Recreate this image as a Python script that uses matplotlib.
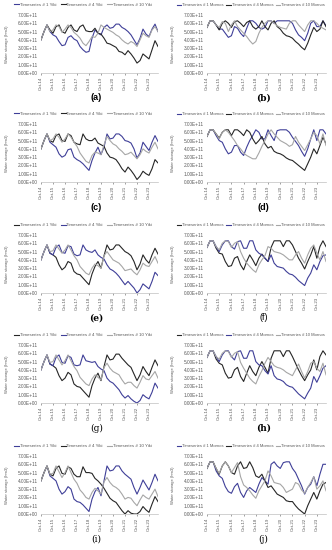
import matplotlib
matplotlib.use("Agg")
import matplotlib.pyplot as plt
import matplotlib.dates as mdates
import matplotlib.ticker as mticker
import pandas as pd

plt.rcParams['font.family'] = ['Liberation Sans', 'DejaVu Sans']

dates = pd.date_range('2014-10-01', periods=40, freq='3MS')
tick_dates = pd.date_range('2014-10-01', periods=10, freq='12MS')
yticks = [0, 1e11, 2e11, 3e11, 4e11, 5e11, 6e11, 7e11]

# values in units of 1E+11
a1 = [4.0,5.0,5.8,5.0,4.6,4.4,3.8,3.3,3.4,4.3,4.5,4.1,3.9,3.2,2.8,2.5,2.6,4.2,5.2,4.8,4.6,5.5,5.8,5.4,5.5,5.9,5.9,5.5,5.3,5.0,4.6,4.0,3.4,4.2,5.3,4.7,4.4,5.3,5.9,5.0]
a4 = [4.0,5.0,5.8,5.2,4.8,5.6,5.8,5.0,4.8,5.5,5.8,5.2,5.0,5.6,5.8,5.1,5.0,5.0,5.4,4.8,4.7,4.2,3.6,3.5,3.3,3.1,2.6,2.5,2.2,2.7,2.3,1.8,1.2,1.5,2.3,2.0,1.7,2.8,3.9,3.2]
a10 = [4.0,5.0,5.8,5.0,5.2,5.8,5.6,4.9,5.3,5.8,5.5,4.9,4.6,4.2,3.6,3.3,3.8,4.4,4.3,4.8,5.8,5.5,5.3,5.1,4.9,4.6,4.4,4.0,3.7,3.5,3.8,3.6,3.2,4.0,4.8,4.5,4.3,5.2,5.6,5.0]

b1 = [5.5,6.3,6.3,5.8,5.3,5.3,4.8,4.3,4.5,5.6,5.4,4.8,4.4,5.4,6.3,6.3,6.0,5.5,5.3,5.5,6.3,6.3,6.0,6.3,6.3,6.3,6.3,6.3,6.0,5.2,4.6,4.3,3.9,4.8,6.0,6.3,5.6,5.6,6.3,5.7]
b4 = [5.5,6.3,6.3,5.8,5.2,6.0,6.3,6.0,5.5,6.2,6.3,6.0,5.6,6.1,6.3,5.6,5.3,5.6,6.3,5.6,5.2,6.0,6.3,5.6,5.3,4.8,4.5,4.4,4.2,3.8,3.5,3.1,2.8,3.6,4.6,5.5,5.0,5.3,6.3,5.6]
b10 = [5.5,6.3,6.3,5.8,5.5,6.2,6.0,5.0,5.8,6.3,5.6,5.2,4.8,4.4,3.9,3.5,3.8,4.8,5.5,6.0,6.3,6.3,6.0,5.7,5.5,5.4,5.3,6.0,6.3,6.3,5.8,5.4,5.0,5.8,6.3,6.3,6.0,5.6,5.4,5.2]

c1 = [4.0,5.0,5.8,4.8,4.5,4.2,3.4,3.0,3.2,3.9,4.0,3.0,2.7,2.5,2.2,1.8,1.4,2.6,3.5,4.2,3.3,4.2,5.8,5.2,5.3,5.8,5.8,5.5,5.0,4.9,4.7,4.0,2.9,3.5,4.8,4.3,3.8,4.8,5.6,4.9]
c4 = [4.0,5.0,5.8,5.0,4.8,5.6,5.8,5.0,4.9,5.8,5.6,4.8,4.6,4.5,5.8,5.2,5.0,5.0,5.3,4.7,4.5,4.3,3.5,3.0,2.9,2.7,2.2,1.6,1.2,1.8,1.4,0.9,0.3,0.7,1.3,1.0,0.8,1.6,2.7,2.3]
c10 = [4.0,5.0,5.8,5.0,5.2,5.8,5.4,4.8,5.2,5.8,5.4,4.8,4.3,3.5,3.0,2.5,2.3,3.2,3.6,3.5,3.3,4.5,5.5,5.0,4.6,4.4,4.0,3.7,3.3,3.4,3.6,3.2,2.8,3.3,4.0,3.7,3.5,4.2,4.8,4.0]

d1 = [5.5,6.3,6.3,5.6,5.0,4.8,4.0,3.4,3.6,4.4,4.4,3.6,3.2,4.2,5.0,5.6,6.3,6.0,5.2,5.2,6.3,5.6,5.0,6.2,6.3,6.3,6.3,6.0,5.4,4.9,4.4,3.7,3.1,4.0,5.2,6.3,5.0,6.3,6.3,5.8]
d4 = [5.5,6.3,6.3,5.8,5.3,6.0,6.3,6.3,5.6,6.3,6.3,6.0,5.6,6.3,6.0,5.2,4.6,5.0,5.5,4.6,4.1,4.3,3.7,3.5,3.4,3.2,2.9,2.7,2.6,2.3,2.0,1.7,1.4,2.2,3.0,4.0,3.4,4.4,5.4,4.6]
d10 = [5.5,6.3,6.3,5.8,5.2,6.0,6.3,6.0,5.5,5.0,4.4,4.0,3.5,3.2,3.0,2.8,2.8,3.5,4.3,5.0,5.8,6.3,5.8,5.4,5.0,4.8,4.6,4.3,4.5,5.5,4.8,4.3,3.8,4.5,5.2,6.0,5.6,4.6,5.8,4.4]

e1 = [4.0,5.0,5.8,4.8,4.6,4.3,3.4,2.8,3.1,3.8,3.6,2.6,2.3,2.2,1.8,1.4,1.0,2.3,3.2,3.8,3.0,4.5,5.8,5.2,5.3,5.8,5.8,5.4,5.0,4.8,4.5,3.8,2.8,3.5,4.6,4.0,3.6,4.6,5.4,4.7]
e4 = [4.0,5.0,5.8,4.8,4.6,5.5,5.8,4.9,4.8,5.7,5.6,4.7,4.5,4.6,5.8,5.2,5.0,4.9,5.2,4.6,4.3,4.1,3.4,2.9,2.7,2.4,2.0,1.5,1.0,1.4,1.0,0.6,0.0,0.4,1.1,0.8,0.5,1.4,2.5,2.1]
e10 = [4.0,5.0,5.8,5.0,5.1,5.8,5.3,4.8,5.2,5.8,5.2,4.5,4.0,3.2,2.8,2.4,2.2,3.0,3.5,3.3,3.0,4.5,5.0,4.5,4.0,3.8,3.6,3.2,2.7,2.8,2.9,2.5,2.2,2.8,3.6,3.3,3.2,3.8,4.4,3.6]

f1 = [5.5,6.3,6.3,5.4,4.8,4.7,3.8,3.2,3.3,4.2,4.4,3.4,2.8,3.8,4.6,4.0,3.3,4.2,4.7,4.2,3.8,5.5,6.3,6.3,6.3,5.6,6.3,6.3,5.8,5.0,4.2,3.6,2.9,3.8,4.6,5.6,4.2,5.6,6.3,5.6]
f4 = [5.5,6.3,6.3,5.6,5.0,5.8,6.3,6.3,5.6,5.3,6.2,6.3,5.4,5.4,6.3,6.3,5.2,4.8,4.6,4.2,3.8,4.6,3.6,3.2,3.1,3.0,2.6,2.3,2.2,1.9,1.5,1.2,0.9,1.8,2.4,3.4,2.8,3.8,4.5,4.6]
f10 = [5.5,6.3,6.3,5.6,5.2,6.0,6.3,6.2,5.5,6.0,6.2,5.0,4.2,3.6,3.2,2.8,2.5,3.4,4.0,4.5,5.6,5.4,5.0,4.9,4.8,4.6,4.3,4.0,4.0,4.6,5.0,4.2,3.6,4.6,5.4,5.8,4.8,4.0,5.0,3.8]

g1 = [4.0,5.0,5.8,4.7,4.5,4.2,3.3,2.7,3.0,3.7,3.4,2.3,2.0,1.9,1.5,1.1,0.7,2.1,3.0,3.6,2.7,4.4,5.8,5.2,5.3,5.9,5.9,5.4,5.0,4.6,4.3,3.5,2.7,3.4,4.4,3.8,3.3,4.3,5.2,4.5]
g4 = [4.0,5.0,5.8,4.7,4.5,5.5,5.8,4.9,4.8,5.7,5.5,4.6,4.5,4.6,5.8,5.1,5.0,4.9,5.0,4.4,4.1,3.9,3.0,2.6,2.4,2.0,1.6,1.0,0.6,0.9,0.5,0.2,0.0,0.3,1.0,0.7,0.5,1.3,2.4,1.8]
g10 = [4.0,5.0,5.8,4.9,5.0,5.8,5.2,4.6,5.1,5.8,5.1,4.4,3.9,3.1,2.7,2.3,2.1,2.9,3.4,3.1,2.8,4.3,4.8,4.2,3.8,3.6,3.4,2.8,2.3,2.5,2.5,2.1,1.8,2.5,3.3,2.9,2.8,3.3,3.8,3.0]

h1 = [5.5,6.3,6.3,5.3,4.8,4.6,3.6,3.0,3.1,4.0,4.3,3.2,2.6,3.6,4.5,3.8,3.3,4.3,5.0,4.3,3.6,5.4,6.3,6.3,6.3,5.6,6.3,6.3,5.6,4.8,4.0,3.3,2.7,3.4,4.0,5.2,4.0,5.6,6.3,5.8]
h4 = [5.5,6.3,6.3,5.6,5.0,5.8,6.3,6.3,5.6,5.2,6.2,6.3,5.4,5.4,6.3,6.3,5.0,4.6,4.5,3.9,3.5,4.5,3.3,2.9,2.8,2.6,2.2,2.0,1.9,1.5,1.1,0.8,0.5,1.2,1.8,3.2,2.5,3.3,4.2,4.5]
h10 = [5.5,6.3,6.3,5.6,5.3,6.0,6.3,6.2,5.5,6.0,6.2,4.9,4.2,3.6,3.0,2.6,2.3,3.2,3.9,4.8,5.5,5.0,4.5,4.3,4.2,4.0,3.7,3.5,3.3,4.0,4.7,3.8,3.0,3.8,4.8,5.0,4.2,3.8,4.8,3.4]

i1 = [4.0,5.0,5.8,4.6,4.3,4.0,3.0,2.4,2.7,3.3,3.0,1.8,1.5,1.4,1.1,0.7,0.3,1.8,2.7,3.2,2.2,4.0,5.8,5.2,5.3,5.8,5.8,5.2,4.8,4.5,4.2,3.2,2.4,3.2,4.1,3.5,2.9,3.8,4.8,4.0]
i4 = [4.0,5.0,5.8,4.8,4.6,5.5,5.8,4.9,4.8,5.7,5.5,4.8,4.5,4.5,5.7,5.0,5.0,4.9,4.3,4.0,3.6,3.1,2.5,1.9,1.6,1.4,0.9,0.4,0.0,0.4,0.1,0.0,0.0,0.3,0.9,0.5,0.2,1.2,2.1,1.5]
i10 = [4.0,5.0,5.8,4.8,4.9,5.8,5.1,4.4,5.0,5.8,5.0,4.2,3.7,2.9,2.5,2.0,1.8,2.6,3.1,2.8,2.4,3.9,4.4,3.8,3.4,3.2,2.9,2.4,1.8,2.0,1.9,1.4,1.0,1.7,2.3,2.0,1.8,2.4,3.0,2.1]

j1 = [5.5,6.3,6.3,5.2,4.6,4.3,3.3,2.7,2.5,3.3,3.7,2.6,2.0,2.8,3.2,2.9,2.6,3.6,4.4,4.0,3.6,6.0,6.3,5.8,5.5,6.2,6.3,6.3,5.5,5.0,4.2,3.4,2.4,3.2,3.6,4.5,3.4,4.8,6.0,6.0]
j4 = [5.5,6.3,6.3,5.5,4.8,5.8,6.3,5.8,5.0,4.8,5.8,6.3,5.5,5.6,6.3,5.6,4.6,4.4,4.8,4.0,3.2,3.4,2.9,2.4,2.2,2.0,1.6,1.5,1.5,1.0,0.6,0.3,0.0,1.0,1.8,2.6,1.8,2.8,3.6,3.8]
j10 = [5.5,6.3,6.3,5.5,4.9,5.8,6.3,5.8,5.0,5.6,6.2,4.5,3.5,3.2,2.8,2.3,1.9,2.8,3.4,4.0,5.2,4.6,3.8,3.7,3.6,3.2,2.6,2.8,3.0,3.8,3.6,2.9,2.5,3.2,3.8,4.5,3.0,3.4,4.0,2.8]

BLUE = '#3F3F98'
BLACK = '#262626'
GRAY = '#A6A6A6'

panels = [
    ('(a)', 'Yiki', [a1, a4, a10], [BLUE, BLACK, GRAY], 'sans', 'bold'),
    ('(b)', 'Mornos', [b1, b4, b10], [BLUE, BLACK, GRAY], 'serif', 'bold'),
    ('(c)', 'Yiki', [c1, c4, c10], [BLUE, BLACK, GRAY], 'sans', 'bold'),
    ('(d)', 'Mornos', [d1, d4, d10], [BLUE, BLACK, GRAY], 'sans', 'bold'),
    ('(e)', 'Yiki', [e1, e4, e10], [BLACK, BLUE, GRAY], 'serif', 'bold'),
    ('(f)', 'Mornos', [f1, f4, f10], [BLACK, BLUE, GRAY], 'sans', 'normal'),
    ('(g)', 'Yiki', [g1, g4, g10], [BLACK, BLUE, GRAY], 'serif', 'normal'),
    ('(h)', 'Mornos', [h1, h4, h10], [BLACK, BLUE, GRAY], 'serif', 'bold'),
    ('(i)', 'Yiki', [i1, i4, i10], [BLUE, BLACK, GRAY], 'serif', 'normal'),
    ('(j)', 'Mornos', [j1, j4, j10], [BLUE, BLACK, GRAY], 'serif', 'normal'),
]
series_ids = ['1', '4', '10']

W, H = 332, 550
fig = plt.figure(figsize=(W / 100, H / 100), dpi=100)
fig.patch.set_facecolor('white')

row_tops = [15, 124, 235, 345, 456]
ax_h = 58
col_left = [41, 207]
col_w = [117, 119]
legend_cx = [83, 251]
legend_fs = [3.2, 3.0]
legend_cs = [1.0, 0.6]
ylab_x = [7, 173]

for k, (lab, name, vals, cols, lfam, lw_) in enumerate(panels):
    r, c = divmod(k, 2)
    top = row_tops[r]
    ax = fig.add_axes([col_left[c] / W, (H - top - ax_h) / H, col_w[c] / W, ax_h / H])
    handles = []
    for sid, v, col in zip(series_ids, vals, cols):
        h, = ax.plot(dates, [x * 1e11 for x in v], color=col, lw=0.8,
                     label=f'Timeseries # {sid} {name}')
        handles.append(h)
    ax.set_xlim(dates[0], dates[-1])
    ax.set_ylim(0, 7e11)
    ax.set_yticks(yticks)
    ax.yaxis.set_major_formatter(mticker.FuncFormatter(lambda v, p: f'{v:.2E}'))
    ax.set_xticks(tick_dates)
    ax.xaxis.set_major_formatter(mdates.DateFormatter('%b-%y'))
    ax.tick_params(axis='y', labelsize=3.4, length=0, pad=2, colors='#595959')
    ax.tick_params(axis='x', labelsize=3.2, length=1.5, width=0.4, pad=1,
                   rotation=90, colors='#595959')
    for s in ['top', 'right']:
        ax.spines[s].set_visible(False)
    ax.spines['left'].set_visible(False)
    ax.spines['bottom'].set_color('#BFBFBF')
    ax.spines['bottom'].set_linewidth(0.5)
    fig.text(ylab_x[c] / W, (H - top - ax_h / 2) / H, 'Water storage (hm3)',
             rotation=90, fontsize=3.0, color='#595959', ha='center', va='center')
    fig.legend(handles=handles, loc='center', ncol=3,
               bbox_to_anchor=(legend_cx[c] / W, (H - top + 10) / H),
               fontsize=legend_fs[c], frameon=False, handlelength=1.1,
               handletextpad=0.2, columnspacing=legend_cs[c], borderpad=0,
               labelcolor='#595959')
    fam = ['DejaVu Serif'] if lfam == 'serif' else ['Liberation Sans', 'DejaVu Sans']
    fig.text((col_left[c] + col_w[c] / 2 - 3) / W, (H - top - 83) / H, lab,
             fontsize=6.5, ha='center', va='center', family=fam, weight=lw_)

fig.savefig('out.png', dpi=100, facecolor='white')
